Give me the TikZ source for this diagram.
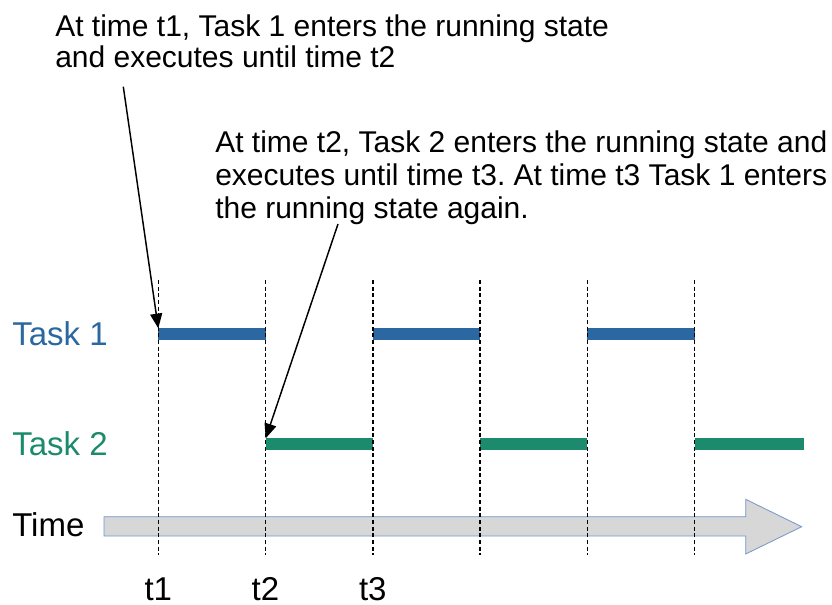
\documentclass[tikz,border=0pt]{standalone}
\usepackage{fontspec}
\setmainfont{Liberation Sans}
\usetikzlibrary{arrows.meta}
\definecolor{taskone}{HTML}{2B67A0}
\definecolor{tasktwo}{HTML}{1C8A6C}
\definecolor{timefill}{HTML}{D6D7D6}
\definecolor{timeedge}{HTML}{7396C9}
\frenchspacing

\begin{document}
\begin{tikzpicture}[
    x=0.75pt, y=-0.75pt,
    note/.style={anchor=north west, inner sep=0pt, align=left, font=\fontsize{22.5}{23.6}\selectfont},
    lbl/.style={anchor=base west, inner sep=0pt, font=\fontsize{24.75}{28}\selectfont},
    tlbl/.style={anchor=base, inner sep=0pt, font=\fontsize{24.75}{28}\selectfont},
    run/.style={line width=9pt},
    tick/.style={dash pattern=on 3pt off 2pt, line width=1.05pt},
    pointer/.style={-{Triangle[length=11pt, width=9pt]}, line width=1.1pt},
    timebar/.style={fill=timefill, draw=timeedge, line width=0.6pt}
]
\useasboundingbox (0,0) rectangle (832,604);

% time instants and rows
\foreach \i/\x in {1/158.3,2/265.5,3/372.8,4/480,5/587.3,6/694.5}
    \coordinate (t\i) at (\x,280);
\coordinate (row1) at (0,334);
\coordinate (row2) at (0,444);
\coordinate (row2end) at (804,444);
\coordinate (lblrow) at (0,600);

% notes
\node[note] (note1) at (55,14) {At time t1, Task 1 enters the running state\\and executes until time t2};
\node[note, font=\fontsize{22.5}{25.1}\selectfont] (note2) at (215,130) {At time t2, Task 2 enters the running state and\\executes until time t3. At time t3 Task 1 enters\\the running state again.};

% row labels
\node[lbl, text=taskone] (task1) at (12,345) {Task 1};
\node[lbl, text=tasktwo] (task2) at (12,455.7) {Task 2};
\node[lbl] (time) at (12,536) {Time};

% time axis
\draw[timebar] (104,516.7) -- (745.7,516.7) -- (745.7,499.3) -- (801.7,526.7)
    -- (745.7,554) -- (745.7,536) -- (104,536) -- cycle;

% running slots
\draw[run, taskone] (t1 |- row1) -- (t2 |- row1);
\draw[run, taskone] (t3 |- row1) -- (t4 |- row1);
\draw[run, taskone] (t5 |- row1) -- (t6 |- row1);
\draw[run, tasktwo] (t2 |- row2) -- (t3 |- row2);
\draw[run, tasktwo] (t4 |- row2) -- (t5 |- row2);
\draw[run, tasktwo] (t6 |- row2) -- (row2end);

\foreach \i in {1,...,6}
    \draw[tick] (t\i) -- ++(0,275);

\node[tlbl] (l1) at (t1 |- lblrow) {t1};
\node[tlbl] (l2) at (t2 |- lblrow) {t2};
\node[tlbl] (l3) at (t3 |- lblrow) {t3};

% pointers
\coordinate (from1) at (123.3,86.7);
\coordinate (to1) at (158.3,328.3);
\coordinate (from2) at (338,224);
\coordinate (to2) at (265.7,438.3);
\draw[pointer] (from1) -- (to1);
\draw[pointer] (from2) -- (to2);
\end{tikzpicture}
\end{document}
